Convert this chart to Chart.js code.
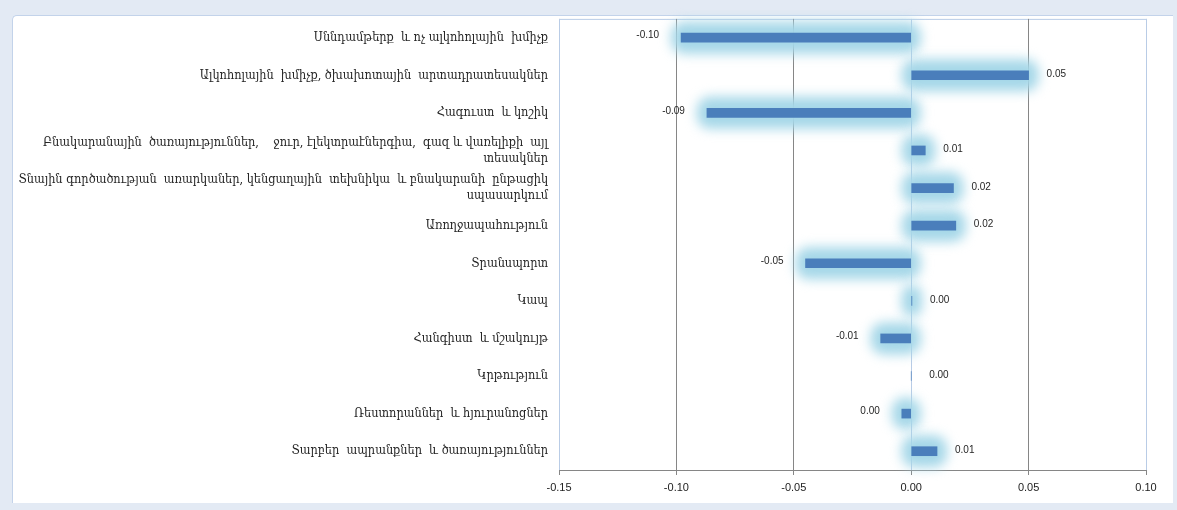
<!DOCTYPE html>
<html>
<head>
<meta charset="utf-8">
<script src="https://cdn.jsdelivr.net/npm/chart.js@4.4.1/dist/chart.umd.min.js"></script>
<style>
  html, body { margin: 0; padding: 0; width: 1177px; height: 510px; overflow: hidden; background: #e3eaf4; }
  #panel { position: absolute; left: 12px; top: 15px; width: 1160px; height: 487px; background: #ffffff;
           border-left: 1px solid #c3d3ea; border-top: 1px solid #c3d3ea; border-radius: 5px 0 0 0; }
  #c { position: absolute; left: 0; top: 0; }
</style>
</head>
<body>
<div id="panel"></div>
<canvas id="c" width="1177" height="510"></canvas>
<script>
const categories = [
  "Սննդամթերք  և ոչ ալկոհոլային  խմիչք",
  "Ալկոհոլային  խմիչք, ծխախոտային  արտադրատեսակներ",
  "Հագուստ  և կոշիկ",
  ["Բնակարանային  ծառայություններ,    ջուր, էլեկտրաէներգիա,  գազ և վառելիքի  այլ", "տեսակներ"],
  ["Տնային գործածության  առարկաներ, կենցաղային  տեխնիկա  և բնակարանի  ընթացիկ", "սպասարկում"],
  "Առողջապահություն",
  "Տրանսպորտ",
  "Կապ",
  "Հանգիստ  և մշակույթ",
  "Կրթություն",
  "Ռեստորաններ  և հյուրանոցներ",
  "Տարբեր  ապրանքներ  և ծառայություններ"
];
const values = [-0.098, 0.050, -0.087, 0.006, 0.018, 0.019, -0.045, 0.0003, -0.013, 0, -0.004, 0.011];
const valueLabels = ["-0.10", "0.05", "-0.09", "0.01", "0.02", "0.02", "-0.05", "0.00", "-0.01", "0.00", "0.00", "0.01"];
const xMin = -0.15, xMax = 0.10, xStep = 0.05;

const glowPlugin = {
  id: 'glow',
  beforeDatasetsDraw(chart) {
    const ctx = chart.ctx;
    const meta = chart.getDatasetMeta(0);
    meta.data.forEach((el, i) => {
      if (values[i] === 0) return;
      const l = Math.min(el.x, el.base) - 10, r = Math.max(el.x, el.base) + 10;
      ctx.save();
      ctx.filter = 'blur(6px)';
      ctx.fillStyle = 'rgba(165,215,232,1)';
      ctx.beginPath();
      ctx.roundRect(l, el.y - 16, r - l, 32, 13);
      ctx.fill();
      ctx.restore();
    });
  },
  afterDatasetsDraw(chart) {
    const ctx = chart.ctx;
    const meta = chart.getDatasetMeta(0);
    ctx.save();
    ctx.font = '10px "Liberation Sans Narrow", "Liberation Sans", sans-serif';
    ctx.fillStyle = '#262626';
    ctx.textBaseline = 'middle';
    meta.data.forEach((el, i) => {
      const v = values[i];
      if (v < 0) { ctx.textAlign = 'right'; ctx.fillText(valueLabels[i], el.x - 22, el.y - 2); }
      else { ctx.textAlign = 'left'; ctx.fillText(valueLabels[i], el.x + 18, el.y - 1); }
    });
    ctx.restore();
  },
  beforeDraw(chart) {
    const a = chart.chartArea, ctx = chart.ctx;
    ctx.save();
    ctx.strokeStyle = '#b9cce6';
    ctx.lineWidth = 1;
    ctx.strokeRect(a.left + 0.5, a.top + 0.5, a.right - a.left, a.bottom - a.top);
    ctx.restore();
  }
};

new Chart(document.getElementById('c'), {
  type: 'bar',
  data: {
    labels: categories,
    datasets: [{ data: values, backgroundColor: '#4a7ebb', borderWidth: 0, barThickness: 9 }]
  },
  options: {
    indexAxis: 'y',
    responsive: false,
    animation: false,
    devicePixelRatio: 1,
    layout: { padding: { top: 17, right: 31, left: 0, bottom: 0 } },
    plugins: { legend: { display: false }, tooltip: { enabled: false } },
    scales: {
      x: {
        min: xMin, max: xMax,
        afterFit(s) { s.height = 40; },
        ticks: {
          stepSize: xStep,
          padding: 6,
          color: '#222',
          font: { family: '"Liberation Sans", sans-serif', size: 11 },
          callback: v => Number(v).toFixed(2)
        },
        grid: {
          drawTicks: true,
          tickLength: 5,
          tickColor: '#868686',
          color: c => {
            const v = c.tick ? Math.round(c.tick.value * 100) : 0;
            return (v === 0 || v === -15 || v === 10) ? '#b9cce6' : '#868686';
          }
        },
        border: { display: true, color: '#868686', width: 1 }
      },
      y: {
        afterFit(s) { s.width = 559; },
        grid: { display: false, drawTicks: false },
        border: { display: false },
        ticks: {
          padding: 11,
          color: '#262626',
          font: { family: '"DejaVu Serif Condensed", "DejaVu Serif", serif', size: 12.6, lineHeight: 1.25 }
        }
      }
    }
  },
  plugins: [glowPlugin]
});
</script>
</body>
</html>
